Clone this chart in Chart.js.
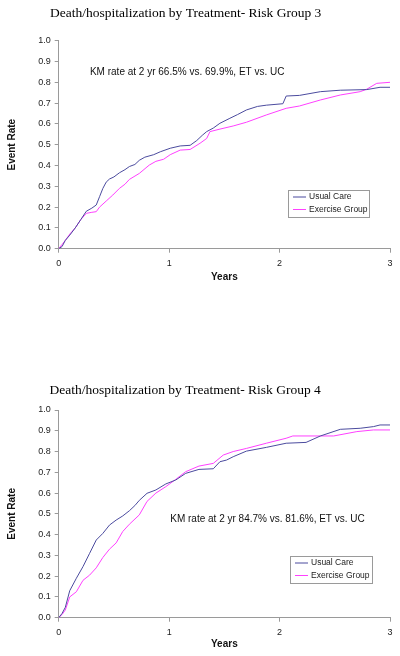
<!DOCTYPE html>
<html>
<head>
<meta charset="utf-8">
<script src="https://cdn.jsdelivr.net/npm/chart.js@4.4.1/dist/chart.umd.min.js"></script>
<style>
    html, body { margin: 0; padding: 0; background: #fff; }
    .panel { position: absolute; left: 0; width: 400px; height: 328px; }
    #panel3 { top: 0; }
    #panel4 { top: 328px; }
</style>
</head>
<body>
<div class="panel" id="panel3"><canvas id="chart3" width="400" height="328"></canvas></div>
<div class="panel" id="panel4"><canvas id="chart4" width="400" height="328"></canvas></div>
<script>
// Risk Group 3
const ucYears3 = [0, 0.03, 0.06, 0.10, 0.15, 0.20, 0.25, 0.30, 0.34, 0.37, 0.40, 0.43, 0.46, 0.50, 0.55, 0.60, 0.64, 0.69, 0.73, 0.78, 0.86, 0.92, 1.01, 1.10, 1.19, 1.25, 1.30, 1.34, 1.40, 1.46, 1.55, 1.62, 1.70, 1.80, 1.88, 2.03, 2.06, 2.18, 2.37, 2.55, 2.79, 2.91, 3.0];
const ucRate3  = [0, 0.01, 0.04, 0.065, 0.10, 0.14, 0.18, 0.195, 0.21, 0.25, 0.29, 0.32, 0.335, 0.345, 0.365, 0.38, 0.395, 0.405, 0.425, 0.44, 0.452, 0.466, 0.483, 0.494, 0.497, 0.52, 0.545, 0.563, 0.58, 0.603, 0.627, 0.645, 0.667, 0.684, 0.69, 0.697, 0.734, 0.737, 0.755, 0.762, 0.765, 0.776, 0.776];
const etYears3 = [0, 0.03, 0.06, 0.10, 0.15, 0.20, 0.25, 0.30, 0.34, 0.37, 0.43, 0.49, 0.55, 0.60, 0.64, 0.73, 0.82, 0.88, 0.95, 1.01, 1.10, 1.19, 1.28, 1.34, 1.37, 1.46, 1.58, 1.70, 1.88, 2.06, 2.18, 2.37, 2.55, 2.73, 2.79, 2.88, 3.0];
const etRate3  = [0, 0.02, 0.04, 0.07, 0.10, 0.14, 0.17, 0.175, 0.178, 0.20, 0.229, 0.258, 0.29, 0.31, 0.333, 0.362, 0.402, 0.42, 0.43, 0.452, 0.474, 0.477, 0.507, 0.53, 0.563, 0.575, 0.59, 0.608, 0.643, 0.675, 0.686, 0.715, 0.739, 0.755, 0.767, 0.795, 0.80];

// Risk Group 4
const ucYears4 = [0, 0.03, 0.06, 0.10, 0.16, 0.22, 0.28, 0.34, 0.40, 0.46, 0.52, 0.58, 0.64, 0.69, 0.73, 0.80, 0.88, 0.97, 1.06, 1.15, 1.27, 1.40, 1.46, 1.52, 1.58, 1.70, 1.88, 2.06, 2.24, 2.37, 2.55, 2.73, 2.85, 2.91, 3.0];
const ucRate4  = [0, 0.02, 0.05, 0.13, 0.19, 0.246, 0.31, 0.374, 0.406, 0.446, 0.47, 0.49, 0.515, 0.54, 0.565, 0.599, 0.615, 0.644, 0.663, 0.695, 0.714, 0.717, 0.751, 0.759, 0.775, 0.802, 0.82, 0.84, 0.844, 0.875, 0.907, 0.912, 0.92, 0.928, 0.928];
const etYears4 = [0, 0.03, 0.06, 0.10, 0.16, 0.22, 0.28, 0.34, 0.40, 0.46, 0.52, 0.58, 0.64, 0.73, 0.80, 0.88, 0.97, 1.06, 1.15, 1.27, 1.40, 1.49, 1.58, 1.70, 1.88, 2.06, 2.12, 2.49, 2.70, 2.85, 3.0];
const etRate4  = [0, 0.015, 0.037, 0.10, 0.125, 0.18, 0.205, 0.24, 0.29, 0.33, 0.36, 0.415, 0.45, 0.495, 0.56, 0.60, 0.631, 0.666, 0.703, 0.73, 0.743, 0.783, 0.80, 0.815, 0.84, 0.864, 0.875, 0.875, 0.896, 0.904, 0.904];

const yearTicks = [0, 1, 2, 3];
const seriesNames = ['Usual Care', 'Exercise Group'];
const seriesColors = ['#4b4b9e', '#ff40ff'];

const SANS = '"Liberation Sans", Arial, sans-serif';
const SERIF = '"Liberation Serif", "Times New Roman", serif';

const toPoints = (xs, ys) => xs.map((x, i) => ({ x: x, y: ys[i] }));

// titles, KM note and the boxed legend
const panelText = {
    id: 'panelText',
    afterDraw(chart, args, opts) {
        const ctx = chart.ctx;
        const xs = chart.scales.x;
        const ys = chart.scales.y;
        ctx.save();

        ctx.fillStyle = '#000';
        ctx.font = '13.5px ' + SERIF;
        ctx.textBaseline = 'alphabetic';
        ctx.textAlign = 'left';
        ctx.fillText(opts.title, opts.titleX, opts.titleY);

        ctx.font = '10px ' + SANS;
        ctx.fillStyle = '#111';
        ctx.textBaseline = 'middle';
        ctx.fillText(opts.note, xs.getPixelForValue(opts.noteAt[0]), ys.getPixelForValue(opts.noteAt[1]));

        // legend box
        const b = opts.legendBox;
        ctx.fillStyle = '#fff';
        ctx.fillRect(b.x, b.y, b.w, b.h);
        ctx.strokeStyle = '#9a9a9a';
        ctx.lineWidth = 1;
        ctx.strokeRect(b.x + 0.5, b.y + 0.5, b.w, b.h);
        ctx.font = '8.5px ' + SANS;
        chart.data.datasets.forEach((ds, i) => {
            const ly = b.y + 7 + i * 12.5;
            ctx.strokeStyle = ds.borderColor;
            ctx.beginPath();
            ctx.moveTo(b.x + 5, ly);
            ctx.lineTo(b.x + 18, ly);
            ctx.stroke();
            ctx.fillStyle = '#222';
            ctx.fillText(ds.label, b.x + 21, ly);
        });
        ctx.restore();
    }
};

function makePanel(canvasId, ucX, ucY, etX, etY, layout) {
    const ctx = document.getElementById(canvasId).getContext('2d');
    return new Chart(ctx, {
        type: 'line',
        data: {
            datasets: [
                { label: seriesNames[0], data: toPoints(ucX, ucY), borderColor: seriesColors[0] },
                { label: seriesNames[1], data: toPoints(etX, etY), borderColor: seriesColors[1] }
            ].map(ds => Object.assign(ds, { borderWidth: 1, pointRadius: 0, tension: 0, fill: false }))
        },
        options: {
            responsive: false,
            animation: false,
            layout: { padding: layout.padding },
            plugins: {
                legend: { display: false },
                tooltip: { enabled: false },
                panelText: layout.text
            },
            scales: {
                x: {
                    type: 'linear',
                    min: yearTicks[0],
                    max: yearTicks[yearTicks.length - 1],
                    ticks: { stepSize: 1, padding: 5, color: '#222', font: { size: 9, family: SANS } },
                    grid: { drawOnChartArea: false, tickLength: 4, color: '#9a9a9a' },
                    border: { color: '#9a9a9a' },
                    title: { display: true, text: 'Years', color: '#111', padding: 0, font: { size: 10, weight: 'bold', family: SANS } },
                    afterFit: s => { s.height = layout.xHeight; }
                },
                y: {
                    min: 0,
                    max: 1,
                    ticks: { stepSize: 0.1, padding: 4, color: '#222', font: { size: 9, family: SANS }, callback: v => v.toFixed(1) },
                    grid: { drawOnChartArea: false, tickLength: 4, color: '#9a9a9a' },
                    border: { color: '#9a9a9a' },
                    title: { display: true, text: 'Event Rate', color: '#111', padding: 0, font: { size: 10, weight: 'bold', family: SANS } },
                    afterFit: s => { s.width = 52.7; }
                }
            }
        },
        plugins: [panelText]
    });
}

makePanel('chart3', ucYears3, ucRate3, etYears3, etRate3, {
    padding: { left: 6, top: 40.7, right: 10, bottom: 45 },
    xHeight: 34.3,
    text: {
        title: 'Death/hospitalization by Treatment- Risk Group 3', titleX: 50, titleY: 16.7,
        note: 'KM rate at 2 yr 66.5% vs. 69.9%, ET vs. UC', noteAt: [0.283, 0.85],
        legendBox: { x: 288, y: 190, w: 81, h: 27 }
    }
});

makePanel('chart4', ucYears4, ucRate4, etYears4, etRate4, {
    padding: { left: 6, top: 82, right: 10, bottom: 6 },
    xHeight: 32.3,
    text: {
        title: 'Death/hospitalization by Treatment- Risk Group 4', titleX: 49.5, titleY: 66,
        note: 'KM rate at 2 yr 84.7% vs. 81.6%, ET vs. UC', noteAt: [1.01, 0.475],
        legendBox: { x: 290, y: 228, w: 82, h: 27 }
    }
});
</script>
</body>
</html>
